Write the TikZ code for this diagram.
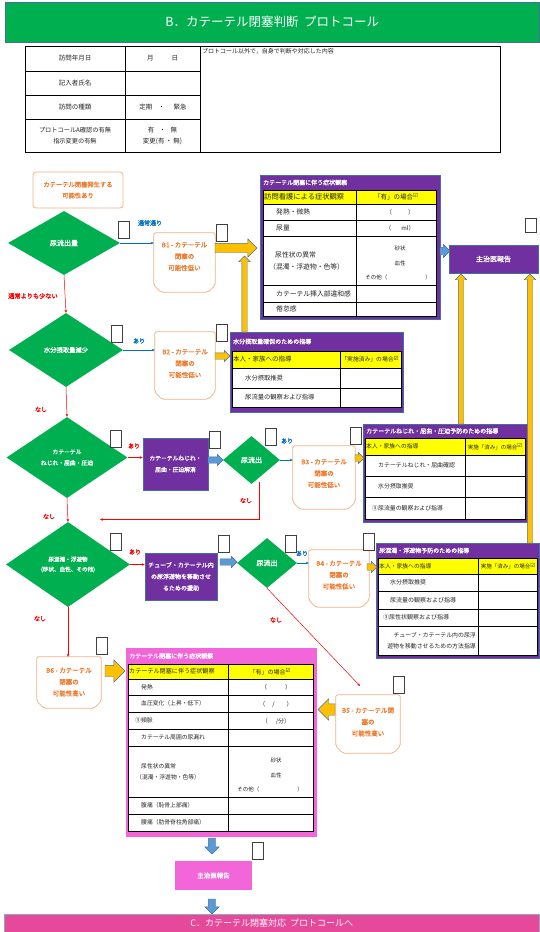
\documentclass[tikz,border=0pt]{standalone}
\usepackage{fontspec}
\setmainfont{Noto Sans CJK JP}
\newfontfamily\jpb{Noto Sans CJK JP}[FakeBold=1.5]
\newfontfamily\symf{DejaVu Sans}
\usetikzlibrary{shapes.geometric,shapes.arrows,arrows.meta,calc}
\definecolor{grn}{HTML}{00B050}
\definecolor{pur}{HTML}{7030A0}
\definecolor{ornT}{HTML}{ED7D31}
\definecolor{ornB}{HTML}{F4B183}
\definecolor{yel}{HTML}{FFFF00}
\definecolor{gold}{HTML}{FFC000}
\definecolor{bluA}{HTML}{5B9BD5}
\definecolor{bluL}{HTML}{0070C0}
\definecolor{pnk}{HTML}{F366DA}
\definecolor{mag}{HTML}{E6489A}
\definecolor{rd}{HTML}{FF0000}
\definecolor{edge}{HTML}{41719C}
\newcommand\fsz[2]{\fontsize{#1}{#2}\selectfont}
\newcommand\chkm{\raisebox{1.5pt}{\symf\fsz{5.5}{6}☑}}
\newcommand\snip[1]{\draw[snipline] (#1.north west) -- (#1.north east) -- ([yshift=7pt]#1.south east) -- ([xshift=-7pt]#1.south east) -- ([xshift=7pt]#1.south west) -- ([yshift=7pt]#1.south west) -- cycle;}
\begin{document}
\begin{tikzpicture}[x=1pt,y=-1pt,
  tl/.style={line width=1pt, draw=black},
  cell/.style={inner sep=0pt, font=\fsz{6}{7.5}, text=black!85},
  c7/.style={cell, font=\fsz{6.8}{12}},
  ttl/.style={inner sep=0pt, text=white, font=\jpb\fsz{6}{7}},
  tframe/.style={fill=pur, draw=edge, line width=0.6pt, inner sep=0pt, anchor=north west},
  chk/.style={draw=black!75, fill=white, line width=0.8pt, minimum width=11pt, minimum height=17pt, inner sep=0pt},
  dia/.style={diamond, fill=grn, text=white, font=\jpb\fsz{6}{7.5}, align=center, inner sep=0pt},
  bsh/.style={inner sep=0pt, draw=none},
  snipline/.style={draw=ornB, line width=0.8pt, rounded corners=2pt},
  btext/.style={text=ornT, font=\jpb\fsz{6.5}{11.5}, align=center, inner sep=0pt},
  pbx/.style={fill=pur, draw=edge, line width=0.5pt, text=white, font=\jpb\fsz{5.8}{11.5}, align=center, inner sep=0pt},
  bl/.style={draw=bluL, line width=0.6pt, -{Stealth[length=3pt,width=2.6pt]}},
  rl/.style={draw=rd, line width=0.5pt, -{Stealth[length=3pt,width=2.6pt]}},
  lblB/.style={text=bluL, font=\jpb\fsz{6}{7}, inner sep=0pt},
  lblR/.style={text=rd, font=\jpb\fsz{6}{7}, inner sep=0pt},
  fatG/.style={single arrow, fill=gold, draw=edge, line width=0.4pt, inner xsep=0pt, outer sep=0pt, anchor=tail},
  fatB/.style={fatG, fill=bluA},
  fs/.style n args={3}{inner ysep=#1, single arrow head extend=#2, minimum width=#3}
]
\useasboundingbox (0,0) rectangle (539,932);
\fill[white] (0,0) rectangle (539,932);

% ---------- header ----------
\node[fill=grn, draw=edge, line width=0.4pt, minimum width=534pt, minimum height=40pt, anchor=north west, inner sep=0pt, text=white, font=\fsz{12.5}{14}] (hdr) at (5,2) {B．カテーテル閉塞判断\ \ プロトコール};

% ---------- top table ----------
\draw[tl] (25,46) rectangle (500,152);
\draw[tl] (125,46) -- (125,152) (200,46) -- (200,152);
\draw[tl] (25,71) -- (200,71) (25,95) -- (200,95) (25,119) -- (200,119);
\node[cell, font=\fsz{6.5}{8}] (r1a) at (75,58.5) {訪問年月日};
\node[cell, font=\fsz{6.5}{8}] (r1b) at (162.5,58.5) {月\hspace{18pt}日};
\node[cell, font=\fsz{6.5}{8}] (r2a) at (75,83) {記入者氏名};
\node[cell, font=\fsz{6.5}{8}] (r3a) at (75,107) {訪問の種類};
\node[cell, font=\fsz{6.5}{8}] (r3b) at (163,107) {定期\hspace{6pt}・\hspace{9pt}緊急};
\node[cell, font=\fsz{6.2}{11}, align=center] (r4a) at (75,135.5) {プロトコールA確認の有無\\指示変更の有無};
\node[cell, font=\fsz{6.5}{11}, align=center] (r4b) at (162.5,135.5) {有\hspace{5pt}・\hspace{5pt}無\\変更(有\,・\,無)};
\node[cell, font=\fsz{6}{7}, anchor=north west] (r1c) at (202,48.5) {プロトコール以外で，自身で判断や対応した内容};

% ---------- start box ----------
\node[draw=ornB, rounded corners=3pt, line width=0.8pt, minimum width=90pt, minimum height=36pt, text=ornT, font=\jpb\fsz{6.3}{11}, align=center, inner sep=0pt] (s0) at (78,190) {カテーテル閉塞発生する\\可能性あり};

% ---------- diamonds ----------
\node[dia, minimum width=112pt, minimum height=64pt, font=\jpb\fsz{7}{8}] (d1) at (64,243) {尿流出量};
\node[dia, minimum width=114pt, minimum height=74pt, font=\jpb\fsz{6.3}{8}] (d2) at (66,350) {水分摂取量減少};
\node[dia, minimum width=121pt, minimum height=81pt, font=\jpb\fsz{5.8}{11}] (d3) at (67,457.5) {カテーテル\\ねじれ・屈曲・圧迫};
\node[dia, minimum width=124pt, minimum height=85pt, font=\jpb\fsz{5.6}{10}] (d4) at (68,564.5) {尿混濁・浮遊物\\(砂状、血性、その他)};
\node[dia, minimum width=57pt, minimum height=48pt, font=\jpb\fsz{7}{8}] (d3b) at (251.5,460) {尿流出};
\node[dia, minimum width=60pt, minimum height=50pt, font=\jpb\fsz{7}{8}] (d4b) at (267,563) {尿流出};

% ---------- B boxes ----------
\node[bsh, minimum width=61pt, minimum height=59pt] (b1) at (184.5,262.5) {};
\snip{b1}
\node[btext] (b1t) at (184.5,256.5) {B1 - カテーテル\\閉塞の\\可能性低い};
\node[bsh, minimum width=60pt, minimum height=67pt] (b2) at (185,365.5) {};
\snip{b2}
\node[btext] (b2t) at (185,363.5) {B2 - カテーテル\\閉塞の\\可能性低い};
\node[bsh, minimum width=62pt, minimum height=63pt] (b3) at (324,477.5) {};
\snip{b3}
\node[btext] (b3t) at (324,473.5) {B3 - カテーテル\\閉塞の\\可能性低い};
\node[bsh, minimum width=60pt, minimum height=57pt] (b4) at (339,578.5) {};
\snip{b4}
\node[btext] (b4t) at (339,575) {B4 - カテーテル\\閉塞の\\可能性低い};
\node[bsh, minimum width=64pt, minimum height=58pt] (b5) at (368,724) {};
\snip{b5}
\node[btext] (b5t) at (368,722) {B5 - カテーテル閉\\塞の\\可能性高い};
\node[bsh, minimum width=64pt, minimum height=51pt] (b6) at (69,682.5) {};
\snip{b6}
\node[btext] (b6t) at (69,682) {B6 - カテーテル\\閉塞の\\可能性高い};

% ---------- purple action boxes ----------
\node[pbx, minimum width=65pt, minimum height=52pt] (pb1) at (175.5,464) {カテーテルねじれ・\\屈曲・圧迫解消};
\node[pbx, minimum width=72pt, minimum height=47pt, font=\jpb\fsz{6}{11.5}] (pb2) at (181,576.5) {チューブ・カテーテル内\\の尿浮遊物を移動させ\\るための援助};
\node[pbx, minimum width=89pt, minimum height=28pt, font=\jpb\fsz{7}{8}] (rep1) at (493.5,259) {主治医報告};
\node[fill=pnk, minimum width=77pt, minimum height=29pt, inner sep=0pt, text=white, font=\jpb\fsz{6.5}{8}] (rep2) at (213.5,875.5) {主治医報告};

% ---------- table 1 ----------
\node[tframe, minimum width=180pt, minimum height=144pt] (t1) at (260,175) {};
\node[ttl, anchor=west] (t1n) at (263,182.5) {カテーテル閉塞に伴う症状観察};
\fill[white] (263,190) rectangle (436,316);
\fill[yel] (263,190) rectangle (436,204);
\draw[tl] (263,190) rectangle (436,316) (356,190) -- (356,316);
\foreach \yy in {204,220,236,285,302} \draw[tl] (263,\yy) -- (436,\yy);
\node[cell, font=\fsz{7.3}{8}, anchor=west] (t1h1) at (264,197) {訪問看護による症状観察};
\node[cell, font=\fsz{6.5}{8}] (t1h2) at (396,197) {「有」の場合\chkm};
\node[c7, anchor=west] (t1a) at (276,212) {発熱・微熱};
\node[cell] (t1a2) at (400,212) {（\hspace{16pt}）};
\node[c7, anchor=west] (t1b) at (276,228) {尿量};
\node[cell] (t1b2) at (400,228.5) {（\hspace{10pt}ml）};
\node[c7, anchor=west, align=left] (t1c) at (269,260.5) {\hspace{6pt}尿性状の異常\\（混濁・浮遊物・色等）};
\node[cell, font=\fsz{5.5}{7}] (t1c1) at (400,248) {砂状};
\node[cell, font=\fsz{5.5}{7}] (t1c2) at (400,263) {血性};
\node[cell, font=\fsz{5.5}{7}] (t1c3) at (398,277) {その他（\hspace{38pt}）};
\node[c7, anchor=west] (t1d) at (276,293.5) {カテーテル挿入部違和感};
\node[c7, anchor=west] (t1e) at (276,309) {倦怠感};

% ---------- table 2 ----------
\node[tframe, minimum width=173pt, minimum height=80pt] (t2) at (230,332) {};
\node[ttl, anchor=west] (t2n) at (233,341.5) {水分摂取量確保のための指導};
\fill[white] (232,351) rectangle (401,407);
\fill[yel] (232,351) rectangle (401,368);
\draw[tl] (232,351) rectangle (401,407) (340,351) -- (340,407);
\draw[tl] (232,368) -- (401,368) (232,388) -- (401,388);
\node[cell, font=\fsz{6.5}{8}, anchor=west] (t2h1) at (233,359.5) {本人・家族への指導};
\node[cell, font=\fsz{5.8}{8}] (t2h2) at (370,359.5) {「実施済み」の場合\chkm};
\node[cell, font=\fsz{6.3}{8}, anchor=west] (t2a) at (245,378) {水分摂取推奨};
\node[cell, font=\fsz{6.3}{8}, anchor=west] (t2b) at (245,397.5) {尿流量の観察および指導};

% ---------- table 3 ----------
\node[tframe, minimum width=164pt, minimum height=98pt] (t3) at (363,424) {};
\node[ttl, anchor=west] (t3n) at (366,431) {カテーテルねじれ・屈曲・圧迫予防のための指導};
\fill[white] (365,438) rectangle (525,519);
\fill[yel] (365,438) rectangle (525,455);
\draw[tl] (365,438) rectangle (525,519) (465,438) -- (465,519);
\foreach \yy in {455,476,497} \draw[tl] (365,\yy) -- (525,\yy);
\node[cell, font=\fsz{5.8}{8}, anchor=west] (t3h1) at (366,446.5) {本人・家族への指導};
\node[cell, font=\fsz{5.5}{8}] (t3h2) at (495,446.5) {実施「済み」の場合\chkm};
\node[cell, font=\fsz{5.9}{8}, anchor=west] (t3a) at (378,465.5) {カテーテルねじれ・屈曲確認};
\node[cell, font=\fsz{5.9}{8}, anchor=west] (t3b) at (378,486.5) {水分摂取推奨};
\node[cell, font=\fsz{5.9}{8}, anchor=west] (t3c) at (372,508) {③尿流量の観察および指導};

% ---------- table 4 ----------
\node[tframe, minimum width=163pt, minimum height=115pt] (t4) at (376,543) {};
\node[ttl, anchor=west] (t4n) at (379,550.5) {尿混濁・浮遊物予防のための指導};
\fill[white] (378,558) rectangle (537,655);
\fill[yel] (378,558) rectangle (537,574);
\draw[tl] (378,558) rectangle (537,655) (478,558) -- (478,655);
\foreach \yy in {574,591,609,626} \draw[tl] (378,\yy) -- (537,\yy);
\node[cell, font=\fsz{5.8}{8}, anchor=west] (t4h1) at (379,566) {本人・家族への指導};
\node[cell, font=\fsz{5.5}{8}] (t4h2) at (508,566) {実施「済み」の場合\chkm};
\node[cell, font=\fsz{6}{8}, anchor=west] (t4a) at (390,582.5) {水分摂取推奨};
\node[cell, font=\fsz{6}{8}, anchor=west] (t4b) at (390,600) {尿流量の観察および指導};
\node[cell, font=\fsz{6}{8}, anchor=west] (t4c) at (383,617.5) {③尿性状観察および指導};
\node[cell, font=\fsz{5.9}{11}, anchor=east, align=right] (t4d) at (476,640.5) {チューブ・カテーテル内の尿浮\\遊物を移動させるための方法指導};

% ---------- pink table ----------
\node[fill=pnk, minimum width=191pt, minimum height=189pt, inner sep=0pt, anchor=north west] (tp) at (126,648) {};
\node[ttl, anchor=west] (tpn) at (129,656) {カテーテル閉塞に伴う症状観察};
\fill[white] (128,664) rectangle (313,831);
\fill[yel] (128,664) rectangle (313,679);
\draw[tl] (128,664) rectangle (313,831) (228,664) -- (228,831);
\foreach \yy in {679,695,712,729,746,797,814} \draw[tl] (128,\yy) -- (313,\yy);
\node[cell, font=\fsz{6.1}{8}, anchor=west] (tph1) at (129,671.5) {カテーテル閉塞に伴う症状観察};
\node[cell, font=\fsz{6}{8}] (tph2) at (270,671.5) {「有」の場合\chkm};
\node[cell, font=\fsz{5.8}{8}, anchor=west] (tpa) at (141,687) {発熱};
\node[cell] (tpa2) at (276,687.5) {（\hspace{18pt}）};
\node[cell, font=\fsz{5.8}{8}, anchor=west] (tpb) at (141,703.5) {血圧変化（上昇・低下）};
\node[cell] (tpb2) at (276,704) {（\hspace{7pt}/\hspace{12pt}）};
\node[cell, font=\fsz{5.8}{8}, anchor=west] (tpc) at (135,720.5) {③頻脈};
\node[cell] (tpc2) at (276,721) {（\hspace{8pt}/分）};
\node[cell, font=\fsz{5.8}{8}, anchor=west] (tpd) at (141,737.5) {カテーテル周囲の尿漏れ};
\node[cell, font=\fsz{5.8}{11}, anchor=west, align=left] (tpe) at (136,771.5) {\hspace{5pt}尿性状の異常\\（混濁・浮遊物・色等）};
\node[cell, font=\fsz{5.5}{7}] (tpe1) at (276,760) {砂状};
\node[cell, font=\fsz{5.5}{7}] (tpe2) at (276,775) {血性};
\node[cell, font=\fsz{5.5}{7}] (tpe3) at (270,789) {その他（\hspace{38pt}）};
\node[cell, font=\fsz{5.8}{8}, anchor=west] (tpf) at (141,805.5) {腹痛（恥骨上部痛）};
\node[cell, font=\fsz{5.8}{8}, anchor=west] (tpg) at (141,822.5) {腰痛（肋骨脊柱角部痛）};

% ---------- bottom bar ----------
\node[fill=mag, draw=edge!60, line width=0.4pt, minimum width=535pt, minimum height=18pt, anchor=north west, inner sep=0pt, text=white, font=\fsz{9}{10}] (cbar) at (4,914) {C．カテーテル閉塞対応\ \ プロトコールへ};

% ---------- thin connectors ----------
\draw[bl] (d1.east) -- (d1.east -| b1.west);
\draw[bl] (d2.east) -- (d2.east -| b2.west);
\draw[bl] (d3b.east) -- (d3b.east -| b3.west);
\draw[bl] (d4b.east) -- (d4b.east -| b4.west);
\draw[rl] (d1.south) -- (d2.north);
\draw[rl] (d2.south) -- (d3.north);
\draw[rl] (d3.south) -- (d4.north);
\draw[rl] (d4.south) -- (d4.south |- b6.north);
\draw[rl] (d3.east) -- (d3.east -| pb1.west);
\draw[rl] (d4.east) -- (d4.east -| pb2.west);
\coordinate (m0) at (259,482);
\coordinate (m1) at (100,519.5);
\draw[rl] (m0) |- (m1);
\coordinate (m2) at (360,686);
\draw[rl] (d4b.south) -- (m2);

% ---------- labels ----------
\node[lblB] (l1) at (150,223) {通常通り};
\node[lblR, font=\jpb\fsz{6.2}{7}] (l2) at (33,296) {通常よりも少ない};
\node[lblB] (l3) at (139,341) {あり};
\node[lblR] (l4) at (41,409.5) {なし};
\node[lblR] (l5) at (134,446) {あり};
\node[lblR] (l6) at (49,516.5) {なし};
\node[lblB] (l7) at (287,441) {あり};
\node[lblR] (l8) at (246,500.5) {なし};
\node[lblR] (l9) at (135,552) {あり};
\node[lblB] (l10) at (302,553.5) {あり};
\node[lblR] (l11) at (40,618.5) {なし};
\node[lblR] (l12) at (276,620) {なし};

% ---------- fat arrows ----------
\node[fatG, fs={4.5pt}{4.5pt}{18pt}, minimum height=42pt] (a1) at (215,248) {};
\node[fatG, fs={3pt}{2.5pt}{11pt}, minimum height=15pt] (a2) at (215,356) {};
\node[fatG, fs={3pt}{2.5pt}{11pt}, minimum height=9pt] (a3) at (355,458) {};
\node[fatG, fs={3pt}{2.5pt}{11pt}, minimum height=10pt] (a4) at (367,567) {};
\node[fatG, fs={5.5pt}{5pt}{21pt}, rotate=180, minimum height=17pt] (a5) at (335,709.5) {};
\node[fatG, fs={5.5pt}{5.5pt}{22pt}, minimum height=20pt] (a6) at (105,671) {};
\node[fatG, fs={2.5pt}{3pt}{11pt}, rotate=90, minimum height=76pt] (v1) at (244.5,332) {};
\node[fatG, fs={2.5pt}{3pt}{11pt}, rotate=90, minimum height=150pt] (v2) at (461,424) {};
\node[fatG, fs={2.5pt}{3pt}{11pt}, rotate=90, minimum height=269pt] (v3) at (530,543) {};
\node[fatB, fs={3.5pt}{3pt}{13pt}, minimum height=10pt] (ab1) at (440,251) {};
\node[fatB, fs={3pt}{2.5pt}{11pt}, minimum height=15pt] (ab2) at (208,460) {};
\node[fatB, fs={3pt}{2.5pt}{11pt}, minimum height=17pt] (ab3) at (220,562) {};
\node[fatB, fs={3.5pt}{3.5pt}{14pt}, rotate=-90, minimum height=16pt] (ab4) at (212,838) {};
\node[fatB, fs={3.5pt}{3.5pt}{14pt}, rotate=-90, minimum height=15pt] (ab5) at (212,899) {};

% ---------- check boxes ----------
\node[chk] (c1) at (124,230) {};
\node[chk] (c2) at (222,232.5) {};
\node[chk, minimum height=14pt] (c3) at (531,225) {};
\node[chk] (c4) at (117,334) {};
\node[chk] (c5) at (222,332.5) {};
\node[chk] (c6) at (116,438.5) {};
\node[chk] (c7) at (215,439.5) {};
\node[chk] (c8) at (270.5,436.5) {};
\node[chk] (c9) at (355.5,435.5) {};
\node[chk] (c10) at (116,542) {};
\node[chk] (c11) at (224,543.5) {};
\node[chk] (c12) at (290.5,544) {};
\node[chk] (c13) at (368.5,541.5) {};
\node[chk] (c14) at (101.5,646) {};
\node[chk] (c15) at (399,684.5) {};
\node[chk] (c16) at (257.5,851) {};
\end{tikzpicture}
\end{document}
